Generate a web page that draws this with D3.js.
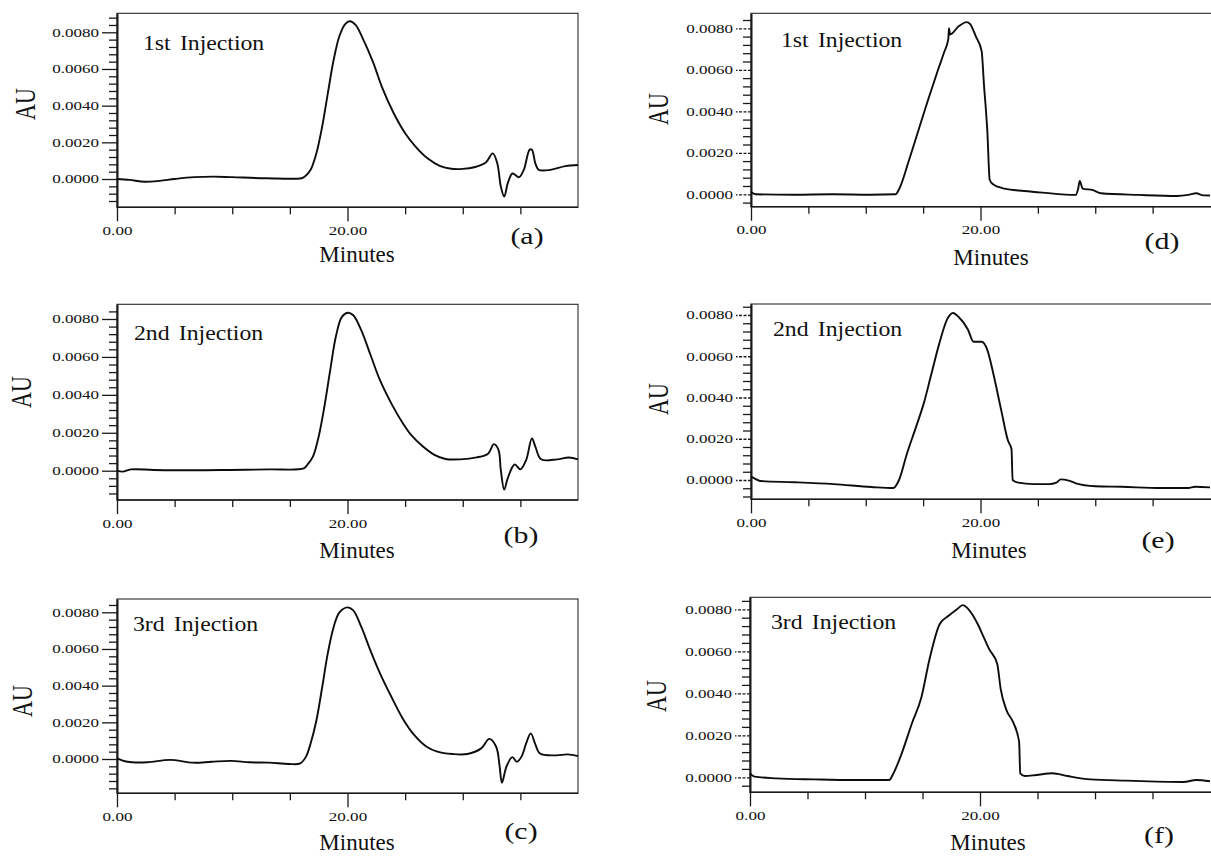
<!DOCTYPE html>
<html>
<head>
<meta charset="utf-8">
<script src="https://cdn.jsdelivr.net/npm/d3@7"></script>
<style>
  body { margin: 0; background: #fff; }
  svg { display: block; }
  text { font-family: "Liberation Serif", "Times New Roman", serif; fill: #111; }
</style>
</head>
<body>
<svg id="chart" width="1211" height="856"></svg>
<script>
// chromatogram traces: [minutes, AU]
const traceA = [[0,0],[1.1,-0.00005],[2.4,-0.00015],[3.7,-0.0001],[5,0],[6.7,0.0001],[8.4,0.00013],[10,0.0001],[13,0.00004],[16,0.00004],[16.3,0.00013],[16.8,0.0005],[17.3,0.0014],[17.8,0.00285],[18.3,0.0047],[18.8,0.0065],[19.3,0.0078],[19.8,0.00845],[20.2,0.0086],[20.7,0.0084],[21.3,0.0077],[22.2,0.0064],[23,0.005],[24,0.0036],[25,0.0025],[26,0.0017],[27,0.0011],[28,0.00072],[29,0.00056],[30,0.00055],[31,0.00064],[32,0.0009],[32.6,0.0014],[33,0.00085],[33.3,-0.0004],[33.6,-0.00096],[33.9,-0.00024],[34.3,0.0003],[34.6,0.0002],[34.9,0.0001],[35.3,0.0005],[35.8,0.0016],[36,0.0016],[36.3,0.00085],[36.6,0.0005],[37.6,0.0005],[38.9,0.0007],[40,0.00076]];
const traceB = [[0,0],[0.5,-0.00005],[1.2,0.00007],[3.2,0.00004],[6.5,0.00002],[9.8,0.00004],[13.2,0.00007],[16.2,0.00012],[16.5,0.0003],[17,0.00074],[17.5,0.0018],[18,0.0034],[18.5,0.0053],[19,0.0071],[19.5,0.0081],[20,0.00833],[20.5,0.0082],[21.2,0.0074],[22,0.0061],[22.8,0.0048],[23.8,0.00355],[24.8,0.0025],[25.5,0.0019],[26.5,0.0013],[27.5,0.00085],[28.5,0.00062],[29.8,0.0006],[31.2,0.0007],[32.2,0.0009],[32.7,0.0014],[33.1,0.0011],[33.3,0.00004],[33.6,-0.001],[33.9,-0.0004],[34.5,0.00033],[35,0.00007],[35.5,0.00056],[36,0.0017],[36.3,0.00127],[36.8,0.0006],[38.2,0.0006],[39.2,0.0007],[40,0.0006]];
const traceC = [[0,0.00004],[0.9,-0.00015],[2.6,-0.00018],[4.6,-0.00005],[6.6,-0.0002],[8.2,-0.00015],[9.9,-0.0001],[11.5,-0.00018],[13.2,-0.0002],[14.9,-0.00027],[15.9,-0.00024],[16.4,0.00013],[16.8,0.00085],[17.3,0.0021],[17.8,0.0039],[18.3,0.0058],[18.8,0.0072],[19.3,0.008],[20,0.00827],[20.5,0.0081],[21.2,0.0072],[22,0.0059],[22.8,0.0047],[23.8,0.0034],[24.8,0.0022],[25.8,0.0013],[26.8,0.0007],[27.8,0.0004],[29.1,0.00027],[30.4,0.00027],[31.6,0.00058],[32.3,0.0011],[32.9,0.00067],[33.2,-0.0004],[33.4,-0.0013],[33.8,-0.0004],[34.3,0.0001],[34.7,-0.00015],[35.1,0.00013],[35.5,0.00085],[35.9,0.0014],[36.3,0.0008],[36.7,0.0003],[38.1,0.0002],[39.1,0.00025],[40,0.00016]];
const traceD = [[0,0.00011],[0.4,0],[3.7,-0.00002],[7.1,0],[10.4,-0.00002],[12.6,0],[12.9,0.00024],[13.8,0.0017],[14.6,0.0031],[15.4,0.0045],[16.3,0.006],[16.8,0.0068],[17.2,0.0075],[17.25,0.008],[17.35,0.0077],[18.1,0.0081],[18.8,0.0083],[19.1,0.0082],[19.6,0.0076],[20.1,0.0069],[20.3,0.0053],[20.6,0.003],[20.8,0.0007],[21.1,0.00048],[22.1,0.00027],[23.8,0.00016],[25.4,0.00008],[28.3,-0.00003],[28.5,0.00024],[28.65,0.00064],[28.9,0.00027],[29.8,0.0002],[30.5,0.00005],[33.8,-0.00003],[37.1,-0.00008],[38.1,-0.00003],[38.8,0.00005],[39.4,-0.00005],[40,-0.00006]];
const traceE = [[0,0.00016],[0.3,0.00008],[0.8,-0.00005],[3.8,-0.00011],[7.2,-0.0002],[10.5,-0.00034],[12.4,-0.00039],[12.9,0],[13.6,0.0013],[14.4,0.0026],[15.1,0.0038],[15.7,0.0051],[16.4,0.0066],[17.1,0.0078],[17.6,0.0081],[18.1,0.0079],[18.9,0.0073],[19.4,0.0067],[20.1,0.0067],[20.6,0.0063],[21.1,0.0052],[21.8,0.0034],[22.4,0.0019],[22.7,0.0015],[22.8,0],[23.3,-0.00013],[24.6,-0.0002],[26,-0.0002],[26.6,-0.00013],[27,0.00003],[27.7,-0.00003],[28.3,-0.00016],[30,-0.0003],[32.3,-0.00033],[35.7,-0.00039],[38.1,-0.00039],[38.7,-0.00033],[40,-0.00036]];
const traceF = [[0,0.00019],[0.4,0.00003],[2.3,-0.00005],[5.6,-0.0001],[9,-0.00013],[12.1,-0.00013],[12.4,0.00011],[13.1,0.001],[14.1,0.0026],[14.9,0.0038],[15.6,0.0056],[16.5,0.0073],[17.3,0.0077],[18,0.008],[18.5,0.0082],[19,0.008],[19.8,0.0073],[20.3,0.0067],[20.8,0.0061],[21.5,0.0054],[21.8,0.0042],[22.3,0.0032],[22.9,0.0026],[23.4,0.0017],[23.5,0.00019],[23.9,0.00006],[24.9,0.00011],[26.3,0.00019],[27.6,0.00006],[29.6,-0.0001],[32.7,-0.00016],[37.7,-0.00022],[38.8,-0.00013],[40,-0.00019]];

const majorMinutes = [0, 20];
const minorMinutes = [5, 10, 15, 25, 30, 35];
const majorAU = [0, 0.002, 0.004, 0.006, 0.008];
const injectionLabels = ['1st Injection', '2nd Injection', '3rd Injection', '1st Injection', '2nd Injection', '3rd Injection'];
const panelLetters = ['(a)', '(b)', '(c)', '(d)', '(e)', '(f)'];
const traces = [traceA, traceB, traceC, traceD, traceE, traceF];

// frame boxes and AU extent of each panel, plus label anchors
const layout = [
  {left: 117, right: 578, frameRight: 578, top: 13.3, bottom: 207.3, au: [-0.001543, 0.009036], title: [143, 49.5], letter: [527, 244], au_lbl: [25, 104], minutes: [357, 262]},
  {left: 117, right: 578, frameRight: 578, top: 304.3, bottom: 500, au: [-0.001545, 0.008775], title: [134, 339.5], letter: [521, 543], au_lbl: [21, 392], minutes: [357, 558]},
  {left: 117, right: 578, frameRight: 578, top: 599, bottom: 793.3, au: [-0.00187, 0.008725], title: [133, 631], letter: [521, 839], au_lbl: [22, 701], minutes: [357, 850]},
  {left: 751, right: 1210, frameRight: 1214, top: 13.3, bottom: 206.7, au: [-0.000598, 0.008723], title: [781, 47], letter: [1162, 249], au_lbl: [658, 109], minutes: [991, 265]},
  {left: 751, right: 1210, frameRight: 1214, top: 304, bottom: 499.3, au: [-0.000936, 0.008533], title: [773, 336], letter: [1158, 548], au_lbl: [658, 399], minutes: [989, 558]},
  {left: 750, right: 1210, frameRight: 1214, top: 597.3, bottom: 792.3, au: [-0.000714, 0.008571], title: [771, 629], letter: [1159, 843], au_lbl: [656, 696], minutes: [988, 850]}
];

const svg = d3.select('#chart');
const tickStretch = 1.42;

function styleAxis(ax) {
  ax.attr('font-family', null).attr('font-size', null);
  ax.select('.domain').attr('stroke', '#1a1a1a').attr('stroke-width', 1.6);
  ax.selectAll('.tick line').attr('stroke', '#1a1a1a').attr('stroke-width', 1.3);
}

function drawPanel(p, i) {
  const x = d3.scaleLinear().domain([0, 40]).range([p.left, p.right]);
  const y = d3.scaleLinear().domain(p.au).range([p.bottom, p.top]);
  const g = svg.append('g');
  const right = i >= 3;

  g.append('rect')
    .attr('x', p.left).attr('y', p.top)
    .attr('width', p.frameRight - p.left).attr('height', p.bottom - p.top)
    .attr('fill', 'none').attr('stroke', '#2a2a2a').attr('stroke-width', 1.1);

  // minor AU ticks every 0.0004
  const minorAU = d3.range(-5, 24).map(k => +(k * 0.0004).toFixed(4))
    .filter(v => v > p.au[0] && v < p.au[1] && !majorAU.includes(v));
  const yMinor = g.append('g').attr('transform', `translate(${p.left},0)`)
    .call(d3.axisLeft(y).tickValues(minorAU).tickSize(8).tickSizeOuter(0).tickFormat(''));
  styleAxis(yMinor);

  const yMajor = g.append('g').attr('transform', `translate(${p.left},0)`)
    .call(d3.axisLeft(y).tickValues(majorAU).tickSize(15).tickSizeOuter(0).tickPadding(3).tickFormat(d3.format('.4f')));
  styleAxis(yMajor);
  if (right) yMajor.selectAll('.tick line').attr('stroke-dasharray', '3,1.5');
  yMajor.selectAll('text')
    .attr('font-size', 12).attr('fill', '#222')
    .attr('x', -18 / tickStretch)
    .attr('transform', `scale(${tickStretch},1)`);

  const xMinor = g.append('g').attr('transform', `translate(0,${p.bottom})`)
    .call(d3.axisBottom(x).tickValues(minorMinutes).tickSize(7).tickSizeOuter(0).tickFormat(''));
  styleAxis(xMinor);
  xMinor.select('.domain').remove();

  const xMajor = g.append('g').attr('transform', `translate(0,${p.bottom})`)
    .call(d3.axisBottom(x).tickValues(majorMinutes).tickSize(14).tickSizeOuter(0).tickPadding(5).tickFormat(d3.format('.2f')));
  styleAxis(xMajor);
  xMajor.select('.domain').attr('d', `M${p.left},0H${p.frameRight}`);
  xMajor.selectAll('text')
    .attr('font-size', 12).attr('fill', '#222')
    .attr('transform', `scale(${tickStretch},1)`)
    .attr('x', 0);

  // smooth gaussian-like peaks on the left, sharp-edged ones on the right
  const curve = right ? d3.curveMonotoneX : d3.curveCatmullRom.alpha(0.5);
  const line = d3.line().x(d => x(d[0])).y(d => y(d[1])).curve(curve);
  g.append('path').datum(traces[i])
    .attr('d', line)
    .attr('fill', 'none').attr('stroke', '#0d0d0d')
    .attr('stroke-width', 1.9).attr('stroke-linejoin', 'round');

  g.append('text')
    .attr('transform', `translate(${p.title[0]},${p.title[1]}) scale(1.08,1)`)
    .attr('font-size', 22).attr('word-spacing', 3)
    .text(injectionLabels[i]);

  g.append('text')
    .attr('transform', `translate(${p.letter[0]},${p.letter[1]}) scale(1.3,1)`)
    .attr('text-anchor', 'middle').attr('font-size', 23)
    .text(panelLetters[i]);

  g.append('text')
    .attr('transform', `translate(${p.minutes[0]},${p.minutes[1]})`)
    .attr('text-anchor', 'middle').attr('font-size', 23)
    .text('Minutes');

  g.append('text')
    .attr('transform', `translate(${p.au_lbl[0]},${p.au_lbl[1]}) scale(1.3,1) rotate(-90)`)
    .attr('text-anchor', 'middle').attr('dy', '0.35em').attr('font-size', 22)
    .text('AU');
}

layout.forEach(drawPanel);
</script>
</body>
</html>
